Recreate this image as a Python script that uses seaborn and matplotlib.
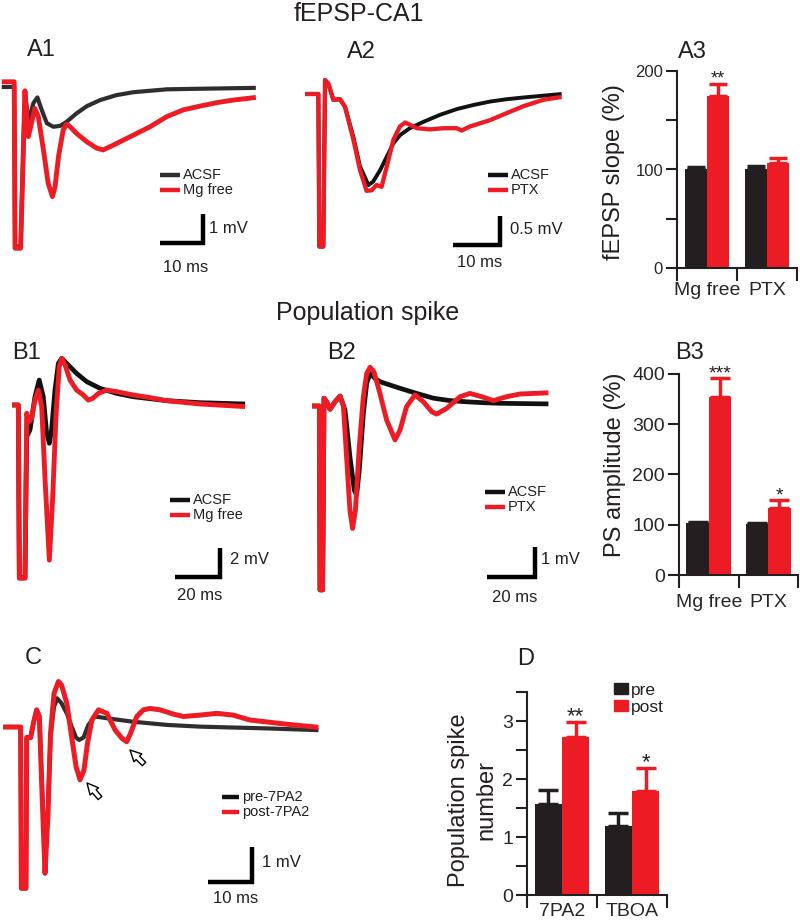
import numpy as np
import pandas as pd
import matplotlib.pyplot as plt
import seaborn as sns
from matplotlib.lines import Line2D
from matplotlib.patches import Patch

# ── Field potential traces (time in ms, voltage in mV from baseline) ──
a1_acsf_t = [0.4, 3.3, 3.5, 4.8, 5.8, 6.6, 7.75, 8.7, 9.7, 10.9, 12.4, 14.0, 15.5, 17.8,
             20.2, 23.3, 27.1, 31.0, 34.9, 38.8, 46.5, 59.5]
a1_acsf_v = [0, 0, -5.5, -5.5, -0.2, -1.2, -0.56, -0.36, -0.79, -1.25, -1.37, -1.34, -1.20, -0.91,
             -0.66, -0.45, -0.28, -0.18, -0.13, -0.08, -0.06, -0.03]
a1_mg_t = [0.4, 3.3, 3.5, 4.8, 5.8, 6.6, 8.1, 8.9, 10.1, 11.2, 12.2, 12.8, 13.6, 14.7, 15.5,
           16.3, 17.8, 20.2, 22.5, 24.0, 26.4, 31.0, 34.9, 38.8, 42.6, 46.5, 50.4, 54.3, 59.5]
a1_mg_v = [0.18, 0.18, -5.56, -5.56, -0.13, -1.71, -0.74, -1.02, -2.17, -3.32, -3.78, -3.44, -2.40,
           -1.48, -1.28, -1.37, -1.60, -1.89, -2.11, -2.17, -2.0, -1.66, -1.37, -1.02, -0.79,
           -0.66, -0.54, -0.45, -0.36]

a2_acsf_t = [0, 2.84, 3.05, 3.9, 4.26, 4.96, 6.03, 7.45, 8.51, 10.3, 11.7, 13.5, 14.5, 16.0,
             17.4, 18.8, 20.2, 22.3, 25.2, 28.7, 32.3, 35.8, 39.4, 42.9, 46.5, 54.6]
a2_acsf_v = [0, 0, -2.63, -2.63, 0.24, 0.18, -0.10, -0.09, -0.22, -0.74, -1.25, -1.57, -1.51,
             -1.31, -1.08, -0.85, -0.71, -0.59, -0.48, -0.36, -0.26, -0.19, -0.13, -0.09, -0.06, 0]
a2_ptx_t = [0, 2.84, 3.05, 3.9, 4.26, 4.96, 6.03, 7.45, 8.51, 10.3, 11.7, 13.1, 14.2, 15.2, 16.3,
            17.4, 18.8, 20.2, 21.3, 22.3, 23.8, 26.6, 29.4, 32.3, 33.3, 35.1, 39.4, 42.9, 46.5,
            50.7, 54.6]
a2_ptx_v = [0, 0, -2.63, -2.63, 0.24, 0.18, -0.10, -0.09, -0.22, -0.79, -1.31, -1.67, -1.66, -1.57,
            -1.60, -1.25, -0.79, -0.56, -0.49, -0.53, -0.59, -0.61, -0.59, -0.59, -0.63, -0.56,
            -0.45, -0.33, -0.21, -0.10, -0.05]

b1_acsf_t = [0, 2.81, 3.26, 5.78, 6.52, 8.0, 10.2, 12.1, 13.9, 15.4, 16.6, 17.6, 19.1, 20.6,
             22.1, 24.3, 28.7, 33.2, 39.1, 46.5, 53.9, 68.7, 83.6, 103.6]
b1_acsf_v = [0, 0, -11.9, -11.9, -2.18, -1.72, 0.57, 1.72, 0.57, -1.95, -2.64, -1.72, 1.03, 2.87,
             3.22, 2.87, 2.18, 1.61, 1.15, 0.80, 0.57, 0.30, 0.16, 0.07]
b1_mg_t = [0, 2.81, 3.26, 5.78, 6.52, 7.70, 8.74, 10.2, 11.7, 13.2, 14.7, 16.6, 18.1, 19.6, 21.0,
           22.1, 23.6, 25.8, 28.7, 31.7, 33.9, 35.9, 38.4, 42.1, 46.5, 53.9, 61.3, 68.7, 83.6, 103.6]
b1_mg_v = [0, 0, -11.95, -11.95, -0.57, -1.15, -0.92, 0.34, 1.03, -0.11, -5.17, -10.7, -6.32,
           -0.57, 2.64, 3.22, 2.76, 1.72, 1.03, 0.69, 0.34, 0.46, 0.80, 1.03, 0.92, 0.69, 0.51,
           0.30, 0.07, -0.11]

b2_acsf_t = [0, 3.06, 3.33, 4.44, 5.0, 6.11, 7.5, 9.58, 11.7, 13.75, 15.8, 17.6, 18.6, 19.7, 21.4,
             22.8, 24.2, 26.25, 28.3, 32.5, 36.7, 43.6, 50.6, 57.5, 64.4, 71.4, 78.3, 98.5]
b2_acsf_v = [0, 0, -6.13, -6.13, 0.26, 0.14, -0.11, 0.14, 0.33, -0.13, -1.69, -2.8, -2.97, -2.13,
             -0.24, 0.76, 1.09, 0.92, 0.81, 0.70, 0.59, 0.42, 0.26, 0.18, 0.14, 0.11, 0.09, 0.07]
b2_ptx_t = [0, 3.06, 3.33, 4.44, 5.0, 6.11, 7.5, 9.58, 11.7, 13.1, 14.4, 15.8, 16.9, 18.1, 19.7,
            21.4, 22.8, 24.2, 25.8, 28.3, 31.1, 34.6, 36.7, 39.4, 42.9, 46.4, 49.9, 51.9, 56.1,
            61.7, 65.8, 70.7, 75.6, 81.1, 86.7, 98.5]
b2_ptx_v = [0, 0, -6.13, -6.13, 0.26, 0.14, -0.11, 0.14, 0.33, -0.02, -1.69, -3.47, -4.08, -3.47,
            -1.36, 0.31, 1.09, 1.29, 1.14, 0.42, -0.47, -1.13, -0.80, -0.02, 0.37, 0.14, -0.19,
            -0.27, -0.08, 0.31, 0.42, 0.31, 0.18, 0.31, 0.40, 0.44]

c_pre_t = [0.08, 4.0, 4.17, 5.23, 5.38, 6.29, 6.89, 7.65, 8.26, 8.79, 9.55, 10.2, 10.8, 11.6, 12.3,
           13.3, 14.5, 15.6, 16.6, 17.3, 18.3, 19.4, 20.9, 23.6, 29.6, 37.2, 44.8, 59.9, 71.7]
c_pre_v = [0, 0, -4.6, -4.6, -0.30, -0.30, 0.10, 0.49, 0.30, -1.42, -3.70, -2.37, -0.28, 0.58, 0.82,
           0.68, 0.39, 0.01, -0.30, -0.37, -0.30, 0.06, 0.30, 0.25, 0.15, 0.06, 0.01, -0.04, -0.09]
c_post_t = [0.08, 4.0, 4.17, 5.23, 5.38, 6.29, 6.89, 7.65, 8.26, 8.79, 9.55, 10.2, 10.8, 11.6, 12.6,
            13.3, 14.5, 15.6, 16.6, 17.5, 18.4, 19.2, 20.2, 21.7, 23.6, 25.5, 27.0, 28.1, 29.0,
            30.4, 31.9, 33.4, 35.7, 38.7, 41.0, 44.8, 48.6, 52.3, 56.1, 63.7, 71.7]
c_post_v = [0, 0, -4.61, -4.61, -0.30, -0.30, 0.10, 0.49, 0.30, -1.61, -4.18, -2.56, -0.18, 0.96,
            1.30, 1.20, 0.68, -0.28, -1.13, -1.51, -1.23, -0.47, 0.20, 0.49, 0.39, -0.09, -0.32,
            -0.42, -0.18, 0.30, 0.49, 0.53, 0.49, 0.37, 0.30, 0.34, 0.39, 0.34, 0.20, 0.09, -0.01]

# ── Bar summaries (mean, SEM) ──
groups_ab = ["Mg free", "PTX"]
a3_pre = [100, 101]
a3_pre_err = [3, 3]
a3_post = [175, 107]
a3_post_err = [12, 5]
a3_stars = ["**", ""]

b3_pre = [103, 102]
b3_pre_err = [2, 2]
b3_post = [355, 134]
b3_post_err = [37, 15]
b3_stars = ["***", "*"]

groups_d = ["7PA2", "TBOA"]
d_pre = [1.57, 1.19]
d_pre_err = [0.24, 0.22]
d_post = [2.72, 1.80]
d_post_err = [0.26, 0.39]
d_stars = ["**", "*"]

BLACK = "#231f20"
RED = "#ed1c24"
W, H = 800, 922

sns.set_style("ticks")
plt.rcParams["font.family"] = ["Liberation Sans", "DejaVu Sans"]
plt.rcParams["text.color"] = BLACK

fig = plt.figure(figsize=(W / 100, H / 100), dpi=100)


def px_ax(l, t, r, b):
    return fig.add_axes([l / W, 1 - b / H, (r - l) / W, (b - t) / H])


def ftext(x, y, s, **kw):
    fig.text(x / W, 1 - y / H, s, **kw)


def trace_panel(box, x0, y0, px_ms, px_mv, traces, bar_corner, bar_ms, bar_mv):
    l, t, r, b = box
    ax = px_ax(l, t, r, b)
    conv = lambda x, y: ((x - x0) / px_ms, (y0 - y) / px_mv)
    for tt, vv, col, lw in traces:
        sns.lineplot(x=tt, y=vv, ax=ax, color=col, lw=lw, sort=False, estimator=None,
                     solid_joinstyle="round", solid_capstyle="butt")
    cx, cy = conv(*bar_corner)
    ax.plot([cx - bar_ms, cx, cx], [cy, cy, cy + bar_mv], color="black", lw=3.2,
            solid_capstyle="butt", solid_joinstyle="miter")
    ax.set_xlim((l - x0) / px_ms, (r - x0) / px_ms)
    ax.set_ylim((y0 - b) / px_mv, (y0 - t) / px_mv)
    ax.axis("off")
    return ax, conv


def legend_entry(x, y, color, label, length=20):
    fig.add_artist(Line2D([x / W, (x + length) / W], [1 - y / H] * 2, color=color, lw=3.2,
                          solid_capstyle="butt"))
    ftext(x + length + 3, y, label, fontsize=10.5, va="center", ha="left")


# ── Traces ──
K1, K2 = "#2e2e2e", "#111111"
trace_panel((0, 60, 270, 300), 0, 87, 4.3, 29,
            [(a1_acsf_t, a1_acsf_v, K1, 3.0), (a1_mg_t, a1_mg_v, RED, 3.5)],
            (203, 243), 10, 1)
trace_panel((290, 60, 580, 300), 305, 94, 4.7, 58,
            [(a2_acsf_t, a2_acsf_v, K2, 2.8), (a2_ptx_t, a2_ptx_v, RED, 3.1)],
            (500, 245), 10, 0.5)
trace_panel((0, 340, 300, 620), 12, 405, 2.25, 14.5,
            [(b1_acsf_t, b1_acsf_v, K2, 3.4), (b1_mg_t, b1_mg_v, RED, 3.5)],
            (220, 577), 20, 2)
trace_panel((300, 340, 600, 620), 312, 406, 2.4, 30,
            [(b2_acsf_t, b2_acsf_v, K2, 3.4), (b2_ptx_t, b2_ptx_v, RED, 3.5)],
            (535, 577), 20, 1)
axc, convc = trace_panel((0, 650, 380, 922), 3, 727, 4.4, 35,
                         [(c_pre_t, c_pre_v, K1, 3.0), (c_post_t, c_post_v, RED, 3.6)],
                         (252, 882), 10, 1)

for tip, tail in [((87, 783), (100, 798)), ((130, 750), (144, 764))]:
    axc.annotate("", xy=convc(*tip), xytext=convc(*tail),
                 arrowprops=dict(arrowstyle="simple,head_length=0.8,head_width=0.8,tail_width=0.35",
                                 fc="white", ec="black", lw=1, shrinkA=0, shrinkB=0))

legend_entry(160, 175, K1, "ACSF")
legend_entry(160, 190, RED, "Mg free")
legend_entry(488, 175, K2, "ACSF")
legend_entry(488, 190, RED, "PTX")
legend_entry(170, 500, K2, "ACSF")
legend_entry(170, 515, RED, "Mg free")
legend_entry(485, 492, K2, "ACSF")
legend_entry(485, 507, RED, "PTX")
legend_entry(222, 797, K2, "pre-7PA2", length=17)
legend_entry(222, 812, RED, "post-7PA2", length=17)

for x, y, s in [(209, 228, "1 mV"), (163, 267, "10 ms"), (510, 230, "0.5 mV"), (457, 262, "10 ms"),
                (230, 560, "2 mV"), (177, 595, "20 ms"), (541, 560, "1 mV"), (492, 597, "20 ms"),
                (262, 862, "1 mV"), (213, 898, "10 ms")]:
    ftext(x, y, s, fontsize=12, va="center", ha="left")


# ── Bar panels ──
def bar_panel(box, groups, pre, pre_err, post, post_err, stars, ylim, yticks, minor,
              width, tick_fs, star_fs, xpad, cap):
    ax = px_ax(*box)
    n = len(groups)
    df = pd.DataFrame({"group": groups * 2, "cond": ["pre"] * n + ["post"] * n,
                       "value": pre + post})
    sns.barplot(data=df, x="group", y="value", hue="cond", hue_order=["pre", "post"],
                palette={"pre": BLACK, "post": RED}, width=width, errorbar=None,
                saturation=1, linewidth=0, legend=False, ax=ax)
    for i in range(n):
        for off, val, err, col in [(-width / 4, pre[i], pre_err[i], BLACK),
                                   (width / 4, post[i], post_err[i], RED)]:
            ax.errorbar(i + off, val, yerr=[[0], [err]], fmt="none", ecolor=col,
                        elinewidth=2.5, capsize=cap, capthick=2.5)
        if stars[i]:
            ax.text(i + width / 4, post[i] + post_err[i], stars[i], ha="center", va="baseline",
                    fontsize=star_fs)
    ax.set_xlim(-0.5, n - 0.5)
    ax.set_ylim(*ylim)
    ax.set_yticks(yticks)
    ax.set_yticks(minor, minor=True)
    ax.set_xticks(np.arange(n + 1) - 0.5, minor=True)
    ax.tick_params(axis="x", which="major", length=0, pad=xpad, labelsize=14)
    ax.tick_params(axis="x", which="minor", length=9, width=1.5, color=BLACK)
    ax.tick_params(axis="y", which="both", length=8, width=1.5, color=BLACK,
                   labelsize=tick_fs, pad=2)
    sns.despine(ax=ax)
    for s in ["left", "bottom"]:
        ax.spines[s].set_linewidth(1.5)
        ax.spines[s].set_color(BLACK)
    ax.set_xlabel("")
    ax.set_ylabel("")
    return ax


bar_panel((677, 71, 797, 268), groups_ab, a3_pre, a3_pre_err, a3_post, a3_post_err, a3_stars,
          (0, 200), [0, 100, 200], [50, 150], 0.74, 12, 13, 10, 6.5)
bar_panel((679, 374, 798, 575), groups_ab, b3_pre, b3_pre_err, b3_post, b3_post_err, b3_stars,
          (0, 400), [0, 100, 200, 300, 400], [], 0.75, 14, 14, 14, 7)
axd = bar_panel((527, 692, 667, 895), groups_d, d_pre, d_pre_err, d_post, d_post_err, d_stars,
                (0, 3.5), [0, 1, 2, 3], [0.5, 1.5, 2.5, 3.5], 0.78, 14, 16, 6, 7)
axd.legend(handles=[Patch(color=BLACK, label="pre"), Patch(color=RED, label="post")],
           loc="upper left", bbox_to_anchor=(614 / W, 1 - 683 / H), bbox_transform=fig.transFigure,
           frameon=False, fontsize=12.5, handlelength=0.8, handleheight=0.6, handletextpad=0.15,
           labelspacing=0.1, borderpad=0, borderaxespad=0)

# ── Axis titles and panel labels ──
ftext(614, 172, "fEPSP slope (%)", fontsize=17, rotation=90, ha="center", va="center")
ftext(615, 465, "PS amplitude (%)", fontsize=17, rotation=90, ha="center", va="center")
ftext(473, 800, "Population spike\nnumber", fontsize=17, rotation=90, ha="center", va="center",
      multialignment="center", linespacing=1.3)

ftext(359, 14, "fEPSP-CA1", fontsize=18, ha="center", va="center")
ftext(368, 313, "Population spike", fontsize=18, ha="center", va="center")
for x, y, s in [(27, 50, "A1"), (347, 52, "A2"), (678, 52, "A3"), (12, 353, "B1"),
                (327, 353, "B2"), (675, 353, "B3"), (25, 658, "C"), (517, 659, "D")]:
    ftext(x, y, s, fontsize=17, ha="left", va="center")

fig.savefig("out.png", dpi=100)
